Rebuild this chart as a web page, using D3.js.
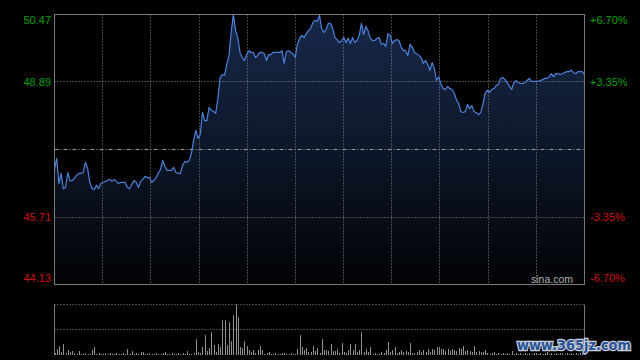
<!DOCTYPE html>
<html><head><meta charset="utf-8">
<script src="https://cdn.jsdelivr.net/npm/d3@7"></script>
<style>html,body{margin:0;padding:0;background:#000;}svg{display:block;}</style>
</head><body>
<svg id="c" width="640" height="360"></svg>
<script>
const prevClose = 47.30;
const priceTicks = [50.47, 48.89, 45.71, 44.13];
const pctTicks = ["+6.70%", "+3.35%", "-3.35%", "-6.70%"];
const prices = [
46.83,47.09,46.50,46.74,46.38,46.41,46.76,46.57,46.57,46.62,
46.69,46.74,46.74,46.76,47.00,46.85,46.53,46.38,46.36,46.46,
46.38,46.50,46.53,46.55,46.57,46.60,46.55,46.60,46.55,46.50,
46.53,46.53,46.53,46.41,46.38,46.48,46.57,46.53,46.41,46.55,
46.60,46.67,46.64,46.64,46.53,46.57,46.64,46.74,46.83,47.04,
46.90,46.81,46.81,46.81,46.88,46.76,46.74,46.74,46.92,47.02,
47.00,47.04,47.21,47.51,47.75,47.56,47.65,48.17,47.98,47.98,
48.29,48.22,48.19,48.15,48.50,48.99,49.06,49.04,49.30,49.51,
50.05,50.47,50.09,49.93,49.58,49.46,49.39,49.53,49.62,49.58,
49.58,49.46,49.51,49.58,49.58,49.55,49.39,49.53,49.53,49.58,
49.58,49.58,49.58,49.62,49.32,49.60,49.62,49.58,49.55,49.46,
49.77,49.91,49.98,49.93,50.02,50.09,50.14,50.28,50.33,50.31,
50.45,50.14,50.05,50.12,50.26,50.26,50.14,49.93,49.88,49.81,
49.86,49.93,49.81,49.91,49.79,49.93,49.81,49.86,49.98,50.26,
50.00,50.19,50.09,49.91,49.86,49.86,49.91,49.93,49.77,49.79,
49.72,50.02,49.98,49.79,49.86,49.88,49.86,49.70,49.62,49.62,
49.51,49.77,49.70,49.58,49.55,49.51,49.46,49.32,49.39,49.30,
49.16,49.34,49.20,48.92,49.01,48.83,48.73,48.71,48.78,48.73,
48.71,48.62,48.47,48.38,48.19,48.17,48.19,48.36,48.26,48.33,
48.19,48.17,48.12,48.17,48.36,48.62,48.69,48.64,48.71,48.73,
48.80,48.83,48.97,48.99,48.94,48.87,48.78,48.71,48.87,48.92,
48.87,48.85,48.85,48.87,48.92,48.97,48.90,48.90,48.90,48.90,
48.92,48.94,48.97,48.97,49.01,49.08,49.01,49.08,49.08,49.06,
49.08,49.11,49.13,49.13,49.16,49.11,49.08,49.13,49.13,49.13,49.06
];
const volumes = [
2,6,9,3,11,2,5,3,4,2,
1,4,1,1,2,1,1,5,8,1,
2,1,1,2,1,2,1,1,2,1,
1,2,1,6,1,4,1,2,1,3,
3,1,1,2,1,1,2,1,1,2,
3,1,1,2,1,1,2,1,2,1,
4,1,1,2,16,3,2,8,20,4,
7,23,10,3,11,8,35,35,10,33,
14,40,51,38,8,7,14,9,5,3,
5,2,5,9,5,1,2,3,1,1,
2,1,1,2,2,1,1,2,1,1,
6,20,8,5,7,3,3,9,4,7,
2,16,5,5,4,11,4,4,6,2,
12,3,2,5,11,5,11,3,5,23,
3,6,3,8,1,2,1,1,3,2,
5,13,3,5,8,2,3,5,3,4,
3,12,2,2,3,5,3,5,3,6,
3,6,5,8,8,6,6,4,6,4,
6,5,4,7,6,9,4,5,4,3,
9,3,4,3,3,5,2,1,2,3,
1,2,1,2,1,2,1,4,1,2,
1,2,1,2,1,2,1,2,2,1,
2,1,2,3,1,2,1,2,1,2,
2,1,2,1,2,1,2,1,2,1,2
];
const gridColumns = 11;

const svg = d3.select("#c");
const L = 54.5, R = 584.5, T = 14.5, B = 284.5;
const VT = 304.5, VB = 355;
const snap = v => Math.round(v - 0.5) + 0.5;

const x = d3.scaleLinear().domain([0, prices.length - 1]).range([L, R]);
const y = d3.scaleLinear().domain([44.13, 50.47]).range([B, T]);
const col = d3.scaleLinear().domain([0, gridColumns]).range([L, R]);
const yv = d3.scaleLinear().domain([0, d3.max(volumes)]).range([VB, VT]);

const defs = svg.append("defs");
const g = defs.append("linearGradient").attr("id", "ag")
  .attr("gradientUnits", "userSpaceOnUse").attr("x1", 0).attr("x2", 0).attr("y1", T).attr("y2", B);
g.append("stop").attr("offset", 0).attr("stop-color", "#172849");
g.append("stop").attr("offset", 0.5).attr("stop-color", "#0d1729");
g.append("stop").attr("offset", 1).attr("stop-color", "#020305");

svg.append("path").datum(prices)
  .attr("fill", "url(#ag)")
  .attr("d", d3.area().x((d, i) => x(i)).y0(B).y1(d => y(d)));

const colIdx = d3.range(1, gridColumns);
svg.append("g").selectAll("line").data(colIdx).join("line")
  .attr("x1", d => snap(col(d))).attr("x2", d => snap(col(d)))
  .attr("y1", T).attr("y2", B)
  .attr("stroke", "#8a8a8a").attr("stroke-width", 1).attr("stroke-dasharray", "1,2");
svg.append("g").selectAll("line").data([priceTicks[1], priceTicks[2]]).join("line")
  .attr("x1", L).attr("x2", R)
  .attr("y1", d => snap(y(d))).attr("y2", d => snap(y(d)))
  .attr("stroke", "#8a8a8a").attr("stroke-width", 1).attr("stroke-dasharray", "1,2");
svg.append("line")
  .attr("x1", L).attr("x2", R)
  .attr("y1", snap(y(prevClose))).attr("y2", snap(y(prevClose)))
  .attr("stroke", "#9a9a9a").attr("stroke-width", 1).attr("stroke-dasharray", "4,2,1,2");

svg.append("path").datum(prices)
  .attr("fill", "none").attr("stroke", "#4b82da").attr("stroke-width", 1.2)
  .attr("stroke-linejoin", "round")
  .attr("d", d3.line().x((d, i) => x(i)).y(d => y(d)));

svg.append("rect").attr("x", L).attr("y", T).attr("width", R - L).attr("height", B - T)
  .attr("fill", "none").attr("stroke", "#7a7a7a").attr("stroke-width", 1);

const lblColors = ["#00a000", "#00a000", "#d01010", "#d01010"];
const lblY = v => Math.min(Math.max(y(v), T + 6), B - 6);
svg.append("g").selectAll("text").data(priceTicks).join("text")
  .attr("x", 51).attr("y", d => lblY(d)).attr("dy", "0.36em")
  .attr("text-anchor", "end").attr("font-family", "Liberation Sans, Arial, sans-serif")
  .attr("font-size", 11).attr("fill", (d, i) => lblColors[i]).text(d => d.toFixed(2));
svg.append("g").selectAll("text").data(pctTicks).join("text")
  .attr("x", 590).attr("y", (d, i) => lblY(priceTicks[i])).attr("dy", "0.36em")
  .attr("text-anchor", "start").attr("font-family", "Liberation Sans, Arial, sans-serif")
  .attr("font-size", 11).attr("fill", (d, i) => lblColors[i]).text(d => d);

svg.append("text").attr("x", 573).attr("y", 283).attr("text-anchor", "end")
  .attr("font-family", "Liberation Sans, Arial, sans-serif").attr("font-size", 10.5)
  .attr("fill", "#b0b0b0").text("sina.com");

svg.append("line").attr("x1", L).attr("x2", R).attr("y1", VT).attr("y2", VT)
  .attr("stroke", "#8a8a8a").attr("stroke-dasharray", "1,2");
svg.append("line").attr("x1", L).attr("x2", R).attr("y1", snap((VT + VB) / 2)).attr("y2", snap((VT + VB) / 2))
  .attr("stroke", "#8a8a8a").attr("stroke-dasharray", "1,2");
svg.append("line").attr("x1", L).attr("x2", L).attr("y1", VT).attr("y2", VB)
  .attr("stroke", "#7a7a7a");
svg.append("line").attr("x1", R).attr("x2", R).attr("y1", VT).attr("y2", VB)
  .attr("stroke", "#7a7a7a");
svg.append("g").selectAll("rect").data(volumes).join("rect")
  .attr("x", (d, i) => Math.round(x(i))).attr("width", 1)
  .attr("y", d => yv(d)).attr("height", d => VB - yv(d))
  .attr("fill", "#939393");

svg.append("text").attr("x", 517).attr("y", 350)
  .attr("font-family", "DejaVu Sans, sans-serif").attr("font-weight", "bold").attr("font-size", 14)
  .attr("textLength", 114).attr("lengthAdjust", "spacingAndGlyphs")
  .attr("fill", "#2a5296").attr("stroke", "#c8d0dc").attr("stroke-width", 2.5)
  .attr("paint-order", "stroke").text("www.365jz.com");
</script>
</body></html>
